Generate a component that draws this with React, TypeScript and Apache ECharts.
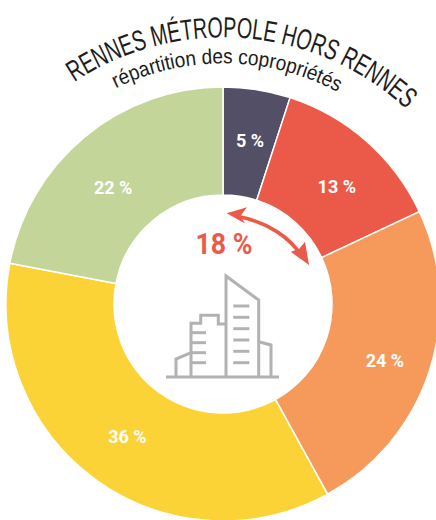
import React, { useEffect, useRef } from "react";
import * as echarts from "echarts";

const titleText = "RENNES MÉTROPOLE HORS RENNES";
const subtitleText = "répartition des copropriétés";
const centerLabel = "18 %";
const sliceNames = ["Tranche A", "Tranche B", "Tranche C", "Tranche D", "Tranche E"];
const sliceValues = [5, 13, 24, 36, 22];
const sliceColors = ["#524f66", "#eb5a49", "#f69a5b", "#fcd337", "#c4d59a"];
const labelNudges = [[1, 0], [4, 7], [4, 5], [2, -2], [-4, 11]];
const GREY = "#b2b2b2";
const RED = "#eb5a49";
const CX = 223;
const CY = 304;

function arcText(text: string, font: string, size: number, r: number, cy: number, a0: number, a1: number, fill: string) {
  const ctx = document.createElement("canvas").getContext("2d")!;
  ctx.font = `${size}px ${font}`;
  const total = ctx.measureText(text).width;
  const arc = ((a1 - a0) * Math.PI / 180) * r;
  const fit = arc / total;
  const out: any[] = [];
  let prefix = "";
  for (const ch of text) {
    const before = ctx.measureText(prefix).width;
    const w = ctx.measureText(ch).width;
    prefix += ch;
    if (ch === " ") continue;
    const s = (before + w / 2) * fit;
    const th = (a0 * Math.PI) / 180 + s / r;
    const rr = r + size * 0.33;
    out.push({
      type: "text",
      x: CX + rr * Math.sin(th),
      y: cy - rr * Math.cos(th),
      rotation: -th,
      scaleX: fit,
      silent: true,
      style: { text: ch, fill, font: `${size}px ${font}`, textAlign: "center", textVerticalAlign: "middle" },
    });
  }
  return out;
}

const line = (points: number[][], w = 3) => ({
  type: "polyline",
  shape: { points },
  silent: true,
  style: { stroke: GREY, lineWidth: w, fill: "none", lineJoin: "miter" },
});

function buildingIcon() {
  const shapes: any[] = [
    line([[166, 377], [279, 377]]),
    line([[226, 377], [226, 276], [258.7, 300], [258.7, 377]]),
    line([[258.7, 341.7], [271, 345], [271, 377]]),
    line([[191, 377], [191, 323.3], [200.7, 323.3], [200.7, 315.3], [218.3, 315.3], [218.3, 324], [226, 324]]),
    line([[176, 377], [176, 359], [191, 352.7]]),
  ];
  for (const y of [306, 317.3, 328.7, 340, 351.3, 362.7]) shapes.push(line([[233.3, y], [249.3, y]]));
  for (const y of [332.7, 342.7, 352.7, 362.7]) shapes.push(line([[191, y], [206, y]]));
  return shapes;
}

function arrow() {
  return [
    {
      type: "bezierCurve",
      silent: true,
      shape: { x1: 236, y1: 216, x2: 302, y2: 257, cpx1: 268, cpy1: 222, cpx2: 291, cpy2: 238 },
      style: { stroke: RED, lineWidth: 3.6, fill: "none" },
    },
    { type: "polygon", silent: true, shape: { points: [[226.7, 213.3], [247, 207.3], [240.5, 216], [245, 223.5]] }, style: { fill: RED } },
    { type: "polygon", silent: true, shape: { points: [[309, 265], [290.7, 251.7], [299, 249], [305, 241.7]] }, style: { fill: RED } },
  ];
}

export default function App() {
  const ref = useRef<HTMLDivElement>(null);
  useEffect(() => {
    document.body.style.margin = "0";
    const chart = echarts.init(ref.current!, undefined, { renderer: "svg" });
    chart.setOption({
      animation: false,
      backgroundColor: "#ffffff",
      series: [
        {
          type: "pie",
          center: [CX, CY],
          radius: [109, 217],
          startAngle: 90,
          clockwise: true,
          silent: true,
          data: sliceValues.map((value, i) => ({
            value,
            name: sliceNames[i],
            itemStyle: { color: sliceColors[i] },
            label: { offset: labelNudges[i] },
          })),
          itemStyle: { borderColor: "#ffffff", borderWidth: 1.5 },
          label: {
            show: true,
            position: "inside",
            formatter: "{c} %",
            color: "#ffffff",
            fontFamily: "Roboto",
            fontWeight: "bold",
            fontSize: 18,
          },
          labelLine: { show: false },
        },
      ],
      graphic: [
        ...arcText(titleText, "'Liberation Sans'", 29, 270, CY + 3, -33.5, 42.8, "#1d1d1b"),
        ...arcText(subtitleText, "'Liberation Sans'", 21, 245, CY + 4, -26, 28, "#1d1d1b"),
        ...arrow(),
        {
          type: "text",
          x: 224,
          y: 244,
          scaleX: 0.92,
          silent: true,
          style: { text: centerLabel, fill: RED, font: "bold 29px Roboto", textAlign: "center", textVerticalAlign: "middle" },
        },
        ...buildingIcon(),
      ],
    });
    return () => chart.dispose();
  }, []);
  return <div ref={ref} style={{ position: "absolute", left: 0, top: 0, width: 436, height: 520, overflow: "hidden" }} />;
}
